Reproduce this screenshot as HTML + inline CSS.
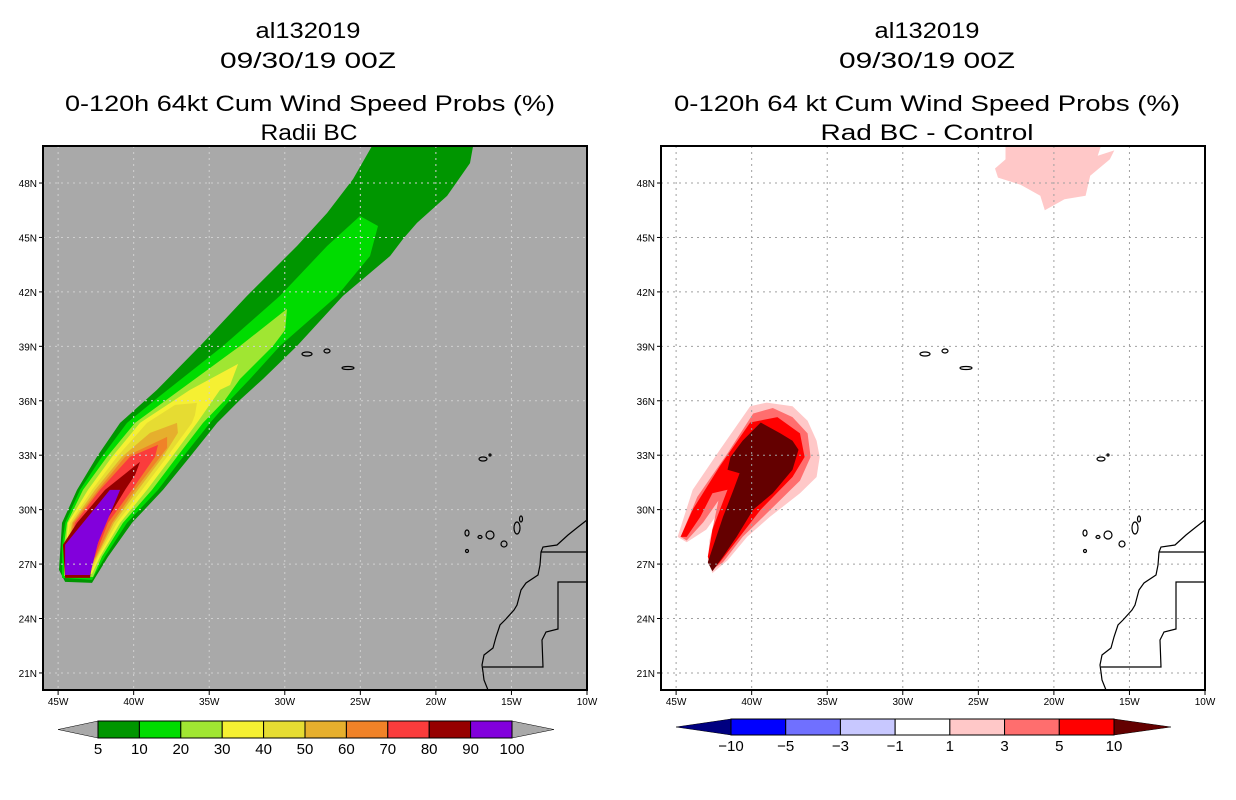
<!DOCTYPE html>
<html><head><meta charset="utf-8"><style>
body{margin:0;background:#fff}
svg{display:block}
text{font-family:"Liberation Sans",sans-serif;fill:#000}
</style></head><body>
<svg id="chart" width="1236" height="800" viewBox="0 0 1236 800" xmlns="http://www.w3.org/2000/svg">
<g>
<text x="308" y="38" font-size="22" text-anchor="middle" textLength="105" lengthAdjust="spacingAndGlyphs">al132019</text>
<text x="308" y="68" font-size="22" text-anchor="middle" textLength="176" lengthAdjust="spacingAndGlyphs">09/30/19 00Z</text>
<text x="310" y="111" font-size="22" text-anchor="middle" textLength="490" lengthAdjust="spacingAndGlyphs">0-120h 64kt Cum Wind Speed Probs (%)</text>
<text x="309" y="140" font-size="22" text-anchor="middle" textLength="97" lengthAdjust="spacingAndGlyphs">Radii BC</text>
</g>
<g>
<text x="927" y="38" font-size="22" text-anchor="middle" textLength="105" lengthAdjust="spacingAndGlyphs">al132019</text>
<text x="927" y="68" font-size="22" text-anchor="middle" textLength="176" lengthAdjust="spacingAndGlyphs">09/30/19 00Z</text>
<text x="927" y="111" font-size="22" text-anchor="middle" textLength="506" lengthAdjust="spacingAndGlyphs">0-120h 64 kt Cum Wind Speed Probs (%)</text>
<text x="927" y="140" font-size="22" text-anchor="middle" textLength="213" lengthAdjust="spacingAndGlyphs">Rad BC - Control</text>
</g>
<g id="leftMap"></g>
<g id="rightMap"></g>
<g id="leftBar"></g>
<g id="rightBar"></g>
</svg>
<script>
// ---- axis data ----
const lonTicks = [-45,-40,-35,-30,-25,-20,-15,-10];
const lonLabels = ["45W","40W","35W","30W","25W","20W","15W","10W"];
const latTicks = [21,24,27,30,33,36,39,42,45,48];
const latLabels = ["21N","24N","27N","30N","33N","36N","39N","42N","45N","48N"];
// ---- left panel contour levels (lon,lat polygons) ----
const leftLevels = [5,10,20,30,40,50,60,70,80,90];
const leftColors = ["#009600","#00dc00","#a0e632","#f5f032","#e6dc32","#e6af2d","#f08228","#fa3c3c","#960000","#8200dc"];
const leftBarLabels = ["5","10","20","30","40","50","60","70","80","90","100"];
const leftC5 = [[-44.54,26.02],[-44.94,26.68],[-44.74,29.27],[-43.75,31.09],[-42.43,32.91],[-40.90,34.78],[-38.46,36.60],[-35.61,39.02],[-32.50,41.78],[-29.19,44.53],[-27.20,46.35],[-25.48,48.22],[-24.23,50.04],[-17.54,50.04],[-17.74,49.10],[-19.26,47.29],[-21.25,45.80],[-22.17,44.92],[-23.03,43.98],[-26.15,41.78],[-29.19,39.02],[-31.44,37.20],[-32.96,36.05],[-34.48,34.78],[-36.27,32.91],[-38.06,31.09],[-40.11,29.27],[-41.70,27.40],[-42.76,25.96]];
const leftC10 = [[-44.74,26.24],[-44.74,28.06],[-44.54,29.27],[-43.55,31.09],[-42.10,32.91],[-40.44,34.78],[-38.26,36.27],[-34.09,39.02],[-30.32,41.78],[-27.20,44.53],[-25.02,46.18],[-23.83,45.63],[-24.36,43.98],[-26.54,41.78],[-30.32,39.02],[-32.30,37.20],[-33.62,36.05],[-34.95,34.78],[-36.73,32.91],[-38.39,31.09],[-40.44,29.27],[-41.90,27.40],[-42.76,26.13]];
const leftC20 = [[-44.61,26.35],[-44.61,28.06],[-44.41,29.27],[-43.35,31.09],[-41.76,32.91],[-39.91,34.78],[-36.93,36.60],[-32.96,39.02],[-29.85,41.06],[-29.98,39.90],[-30.78,39.02],[-32.96,37.20],[-33.95,36.05],[-35.41,34.78],[-37.13,32.91],[-38.79,31.09],[-40.71,29.27],[-42.10,27.40],[-42.69,26.29]];
const leftC30 = [[-44.48,26.46],[-44.48,28.06],[-44.35,29.27],[-43.02,31.09],[-41.43,32.91],[-39.58,34.78],[-36.27,36.60],[-33.09,38.03],[-33.62,36.87],[-34.29,36.60],[-35.81,34.78],[-37.46,32.91],[-39.12,31.09],[-40.90,29.27],[-42.23,27.40],[-42.76,26.46]];
const leftC40 = [[-44.41,26.57],[-44.41,28.06],[-44.21,29.27],[-42.76,31.09],[-41.10,32.91],[-39.12,34.78],[-37.26,35.77],[-35.81,35.88],[-35.94,35.22],[-36.14,34.78],[-37.79,32.91],[-39.45,31.09],[-41.10,29.27],[-42.36,27.40],[-42.82,26.57]];
const leftC50 = [[-44.35,26.68],[-44.35,28.06],[-44.08,29.27],[-42.56,31.09],[-40.77,32.91],[-38.92,34.23],[-37.13,34.78],[-37.07,34.23],[-38.06,32.91],[-39.71,31.09],[-41.30,29.27],[-42.43,27.40],[-42.89,26.68]];
const leftC60 = [[-44.28,26.79],[-44.28,28.06],[-44.01,29.27],[-42.36,31.09],[-40.57,32.91],[-37.79,34.01],[-37.79,33.40],[-39.91,31.09],[-41.43,29.27],[-42.49,27.40],[-42.96,26.79]];
const leftC70 = [[-44.21,26.90],[-44.21,28.06],[-43.88,29.27],[-42.23,31.09],[-40.24,32.91],[-38.39,33.57],[-38.59,32.91],[-40.11,31.09],[-41.70,29.27],[-42.56,27.40],[-43.02,26.90]];
const leftC80 = [[-44.54,26.24],[-44.68,28.06],[-43.75,29.27],[-41.90,31.09],[-39.58,32.63],[-39.91,31.91],[-40.57,31.09],[-41.90,29.27],[-42.69,27.40],[-42.89,26.24]];
const leftC90 = [[-44.54,26.40],[-44.54,28.06],[-41.57,31.09],[-40.90,31.09],[-42.36,28.17],[-42.89,26.40]];
const leftPolys = [leftC5,leftC10,leftC20,leftC30,leftC40,leftC50,leftC60,leftC70,leftC80,leftC90];
// ---- right panel (difference) ----
const rightLevels = [1,3,5,10];
const rightColors = ["#ffc8c8","#ff6e6e","#ff0000","#640000"];
const rightBarColors = ["#0000ff","#7070ff","#c8c8ff","#ffffff","#ffc8c8","#ff6e6e","#ff0000"];
const rightBarLabels = ["\u221210","\u22125","\u22123","\u22121","1","3","5","10"];
const rightC1 = [[-44.9,28.5],[-43.9,31.1],[-42.1,33.3],[-40.1,35.7],[-39.0,35.9],[-37.3,35.7],[-36.3,34.9],[-35.7,33.8],[-35.5,32.9],[-35.7,31.8],[-36.8,30.9],[-38.8,29.6],[-40.3,28.5],[-41.6,27.2],[-42.6,26.5],[-42.9,27.2],[-42.8,28.3],[-42.4,29.6],[-43.0,28.9],[-44.3,28.2]];
const rightC1b = [[-23.2,50.0],[-16.9,50.0],[-17.1,49.5],[-16.0,49.8],[-16.3,49.3],[-17.6,48.4],[-17.9,47.3],[-19.3,47.1],[-20.6,46.5],[-20.9,47.3],[-22.2,47.9],[-23.7,48.3],[-23.9,48.8],[-23.2,49.3]];
const rightC3 = [[-44.7,28.5],[-43.6,30.7],[-41.6,33.1],[-39.9,35.3],[-38.6,35.6],[-37.3,35.1],[-36.3,34.2],[-36.1,32.9],[-36.8,31.6],[-39.0,29.8],[-40.6,28.5],[-41.9,27.1],[-42.6,26.7],[-42.8,27.4],[-42.6,28.9],[-42.2,30.5],[-43.2,29.3],[-44.3,28.3]];
const rightC5 = [[-44.7,28.5],[-43.9,30.0],[-42.1,32.4],[-40.1,34.8],[-38.3,35.1],[-36.8,34.2],[-36.5,32.9],[-37.3,31.8],[-39.4,30.0],[-40.8,28.5],[-42.1,27.1],[-42.6,26.7],[-42.9,27.4],[-42.6,28.9],[-41.6,31.1],[-42.6,30.9],[-43.4,29.6],[-44.3,28.5]];
const rightC10 = [[-42.9,27.1],[-41.9,29.6],[-41.2,31.1],[-40.8,32.0],[-41.6,32.2],[-41.4,32.9],[-40.6,33.8],[-39.4,34.8],[-38.1,34.2],[-37.3,33.8],[-36.9,33.3],[-37.3,32.2],[-38.6,30.9],[-39.9,30.0],[-41.0,28.5],[-41.9,27.4],[-42.6,26.6]];
const rightPolys = [[rightC1,rightC1b],[rightC3],[rightC5],[rightC10]];

const NS = "http://www.w3.org/2000/svg";
function mk(tag, attrs, parent){const e=document.createElementNS(NS,tag);for(const k in attrs)e.setAttribute(k,attrs[k]);parent.appendChild(e);return e;}
const W=544,H=544, LON0=-46, LON1=-10, LAT0=20.06, LAT1=50.04;
function xS(lon){return (lon-LON0)/(LON1-LON0)*W;}
function yS(lat){return (LAT1-lat)/(LAT1-LAT0)*H;}
function pts(poly){return poly.map(p=>xS(p[0]).toFixed(1)+","+yS(p[1]).toFixed(1)).join(" ");}

// coastline / borders in panel-local pixels (geography, not data)
const coast = "544,374 535,381 525,389 514,399 500,401 498,406 497,419 495,429 483,437 478,444 474,459 471,464 462,474 457,479 453,491 450,502 441,509 439,519 440,526 441,534 445,544";
const border1 = "498,406 544,406";
const border2 = "544,436 515,436 515,483 503,486 499,494 500,521 440,521";
const islands = [[264,208,5,2],[284,205,3,2],[305,222,6,1.5],[440,313,4,2],[447,309,1,1],[424,387,2,3],[437,391,2,1.5],[447,389,4,4],[461,398,3,3],[474,382,3,6],[478,373,1.5,3],[424,405,1.5,1.5]];

function drawMap(g, offX, bg, polys, colors, gridColor, namePrefix){
  g.setAttribute("transform","translate("+offX+",146)");
  const r=mk("rect",{x:0,y:0,width:W,height:H,fill:bg},g);
  
  
  const cg=mk("g",{},g);
  
  
  polys.forEach((set,i)=>{
    const list = Array.isArray(set[0][0]) ? set : [set];
    list.forEach(poly=>{
      const p=mk("polygon",{points:pts(poly),fill:colors[i]},cg);
      
      
    });
  });
  const gg=mk("g",{stroke:gridColor,"stroke-width":1,"stroke-dasharray":"2,4"},g);
  
  
  lonTicks.forEach(l=>{ if(l>LON0&&l<LON1) mk("line",{x1:xS(l),y1:0,x2:xS(l),y2:H},gg); });
  latTicks.forEach(l=>{ mk("line",{x1:0,y1:yS(l),x2:W,y2:yS(l)},gg); });
  const geo=mk("g",{fill:"none",stroke:"#000","stroke-width":1.2},g);
  
  
  mk("polyline",{points:coast},geo);mk("polyline",{points:border1},geo);mk("polyline",{points:border2},geo);
  islands.forEach(s=>mk("ellipse",{cx:s[0],cy:s[1],rx:s[2],ry:s[3]},geo));
  const fr=mk("rect",{x:0,y:0,width:W,height:H,fill:"none",stroke:"#000","stroke-width":2},g);
  
  
  const ax=mk("g",{},g);
  
  
  lonTicks.forEach((l,i)=>{
    mk("line",{x1:xS(l),y1:H,x2:xS(l),y2:H+5,stroke:"#000"},ax);
    const t=mk("text",{x:xS(l),y:H+15,"font-size":10,"text-anchor":"middle"},ax);t.textContent=lonLabels[i];
    
    
  });
  latTicks.forEach((l,i)=>{
    mk("line",{x1:-4,y1:yS(l),x2:0,y2:yS(l),stroke:"#000"},ax);
    const t=mk("text",{x:-6,y:yS(l)+4,"font-size":10,"text-anchor":"end"},ax);t.textContent=latLabels[i];
    
    
  });
}
drawMap(document.getElementById("leftMap"),43,"#a9a9a9",leftPolys,leftColors,"#d0d0d0","left");
drawMap(document.getElementById("rightMap"),661,"#ffffff",rightPolys,rightColors,"#a0a0a0","right");

function drawBar(g,x0,x1,tipL,tipR,y0,y1,colors,labels,leftTip,rightTip){
  const n=colors.length, w=(x1-x0)/n, ym=(y0+y1)/2;
  const a=mk("polygon",{points:tipL+","+ym+" "+x0+","+y0+" "+x0+","+y1,fill:leftTip,stroke:"#000","stroke-width":0.5},g);
  
  
  const b=mk("polygon",{points:tipR+","+ym+" "+x1+","+y0+" "+x1+","+y1,fill:rightTip,stroke:"#000","stroke-width":0.5},g);
  
  
  colors.forEach((c,i)=>{
    const r=mk("rect",{x:x0+i*w,y:y0,width:w,height:y1-y0,fill:c,stroke:"#000","stroke-width":1},g);
    
    
  });
  labels.forEach((s,i)=>{
    const t=mk("text",{x:x0+i*w,y:y1+16,"font-size":15,"text-anchor":"middle"},g);t.textContent=s;
    
    
  });
}
drawBar(document.getElementById("leftBar"),98,512,58,554,721,738,leftColors,leftBarLabels,"#a9a9a9","#a9a9a9");
drawBar(document.getElementById("rightBar"),731,1114,676,1171,719,735,rightBarColors,rightBarLabels,"#000080","#640000");
</script>
</body></html>
